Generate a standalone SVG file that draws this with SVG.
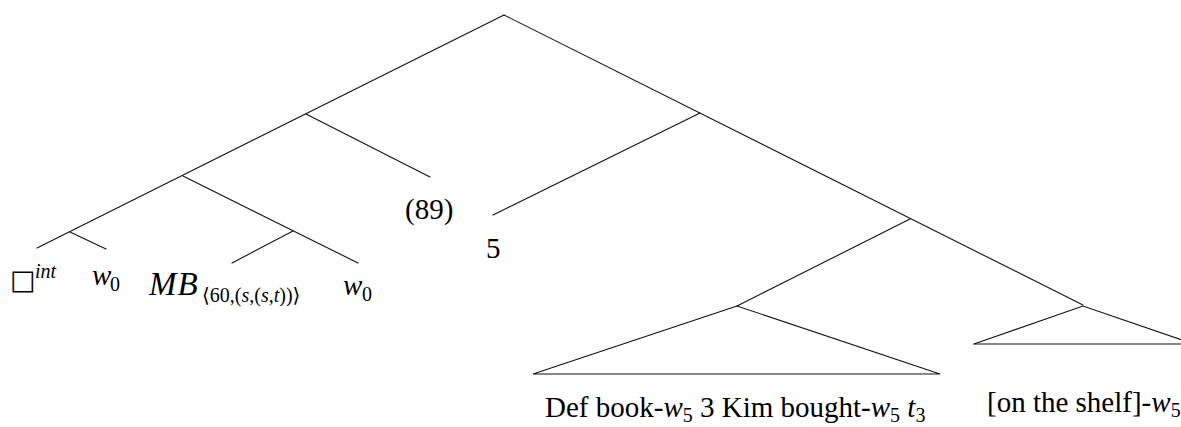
<svg xmlns="http://www.w3.org/2000/svg" width="1181" height="427" viewBox="0 0 1181 427">
<style>
.e{stroke:#111;stroke-width:1.1;fill:none;stroke-linecap:round}
text{font-family:"Liberation Serif","DejaVu Serif",serif;font-size:29px;fill:#000}
.i{font-style:italic}
.s{font-size:20px}
.box{font-family:"DejaVu Sans",sans-serif;font-size:27px}
.mb{font-size:33px;letter-spacing:1px}
</style>
<rect width="1181" height="427" fill="#fff"/>
<g id="connectors">
<line class="e" x1="504" y1="15" x2="37" y2="248"/>
<line class="e" x1="306" y1="114" x2="430" y2="177"/>
<line class="e" x1="183" y1="176" x2="358" y2="263"/>
<line class="e" x1="293" y1="231" x2="232" y2="263"/>
<line class="e" x1="70" y1="232" x2="106" y2="249"/>
<line class="e" x1="504" y1="15" x2="1083" y2="305"/>
<line class="e" x1="700" y1="113" x2="493" y2="215"/>
<line class="e" x1="910" y1="219" x2="737" y2="306"/>
</g>
<g id="tri1">
<polygon class="e" points="737,306 533,374 940,374"/>
</g>
<g id="tri2">
<polyline class="e" points="974,344 1083,306 1194,344"/>
<line class="e" x1="974" y1="344" x2="1181" y2="344"/>
</g>
<g id="n-box"><text x="10" y="289" class="box">□</text><text x="35" y="278" class="i s">int</text></g>
<g id="n-w0a"><text x="92" y="285" class="i">w</text><text x="110" y="291" class="s">0</text></g>
<g id="n-mb"><text x="149" y="295" class="i mb">MB</text><text x="202" y="302" class="s">⟨60,(<tspan class="i">s</tspan>,(<tspan class="i">s</tspan>,<tspan class="i">t</tspan>))⟩</text></g>
<g id="n-w0b"><text x="343" y="295" class="i">w</text><text x="362" y="301" class="s">0</text></g>
<g id="n-89"><text x="405" y="219">(89)</text></g>
<g id="n-5"><text x="486" y="258">5</text></g>
<g id="n-def"><text x="545" y="417">Def book-<tspan class="i">w</tspan><tspan class="s" dy="5">5</tspan><tspan dy="-5"> 3 Kim bought-</tspan><tspan class="i">w</tspan><tspan class="s" dy="5">5</tspan><tspan dy="-5"> </tspan><tspan class="i">t</tspan><tspan class="s" dy="5">3</tspan></text></g>
<g id="n-shelf"><text x="987" y="412">[on the shelf]-<tspan class="i">w</tspan><tspan class="s" dy="5">5</tspan></text></g>
</svg>
